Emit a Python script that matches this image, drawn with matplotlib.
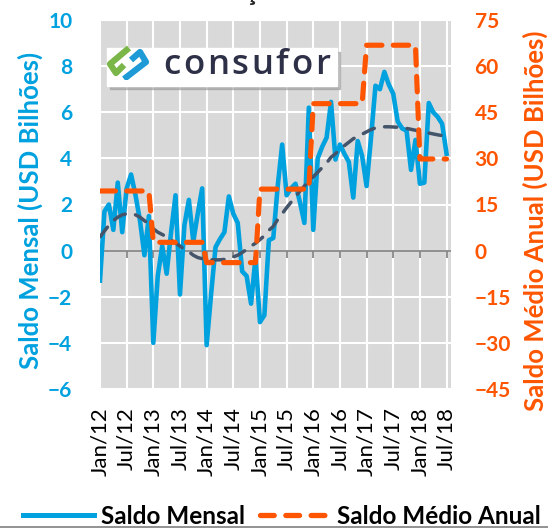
import numpy as np
import matplotlib
matplotlib.use("Agg")
import matplotlib.pyplot as plt
from matplotlib.lines import Line2D
from matplotlib.patches import Rectangle

# saldo mensal (USD bi), Jan/12 .. Jul/18
saldo_2012 = [-1.3, 1.7, 2.0, 0.9, 2.95, 0.8, 2.7, 3.3, 2.4, 1.3, -0.2, 1.5]
saldo_2013 = [-4.0, -1.1, 0.2, -1.0, 0.8, 2.4, -1.9, 1.1, 2.2, 0.4, 1.6, 2.7]
saldo_2014 = [-4.1, -1.9, 0.15, 0.5, 0.8, 2.35, 1.6, 1.2, -0.9, -1.1, -2.3, -0.3]
saldo_2015 = [-3.1, -2.8, 0.45, 0.55, 2.8, 4.6, 2.4, 2.7, 2.9, 2.1, 1.2, 6.2]
saldo_2016 = [0.9, 4.0, 4.5, 4.9, 6.45, 3.95, 4.6, 4.2, 3.85, 2.3, 4.75, 4.1]
saldo_2017 = [2.8, 4.9, 7.15, 7.0, 7.75, 7.2, 6.8, 5.6, 5.3, 5.2, 3.5, 4.8]
saldo_2018 = [2.9, 2.95, 6.4, 6.0, 5.8, 5.5, 4.2]
saldo_mensal = saldo_2012 + saldo_2013 + saldo_2014 + saldo_2015 + saldo_2016 + saldo_2017 + saldo_2018

# saldo anual (eixo direito) e meses de cada ano no grafico
anos = [2012, 2013, 2014, 2015, 2016, 2017, 2018]
saldo_anual = [19.4, 2.7, -3.9, 20.0, 47.8, 66.8, 29.8]
meses_por_ano = [12, 12, 12, 12, 12, 12, 7]

# tendencia (linha tracejada cinza)
tendencia = [0.6, 0.85, 1.1, 1.3, 1.45, 1.55, 1.6, 1.6, 1.55, 1.45, 1.3, 1.15,
             0.95, 0.8, 0.7, 0.6, 0.45, 0.33, 0.2, 0.05, -0.05, -0.2, -0.3, -0.35,
             -0.39, -0.4, -0.4, -0.4, -0.38, -0.33, -0.27, -0.2, -0.08, 0.05, 0.2, 0.32,
             0.48, 0.65, 0.88, 1.05, 1.35, 1.6, 1.86, 2.1, 2.35, 2.58, 2.8, 3.0,
             3.2, 3.4, 3.6, 3.8, 4.05, 4.2, 4.4, 4.55, 4.7, 4.85, 4.95, 5.05,
             5.15, 5.25, 5.32, 5.35, 5.37, 5.37, 5.36, 5.35, 5.33, 5.3, 5.26, 5.22,
             5.18, 5.14, 5.1, 5.06, 5.02, 4.99, 4.97]

tick_labels = ["Jan/12", "Jul/12", "Jan/13", "Jul/13", "Jan/14", "Jul/14", "Jan/15",
               "Jul/15", "Jan/16", "Jul/16", "Jan/17", "Jul/17", "Jan/18", "Jul/18"]

BLUE = "#00a1df"
ORANGE = "#ff5500"
GRAY = "#44546a"
W, H = 548, 528

plt.rcParams["font.family"] = ["Lato", "DejaVu Sans"]

x = np.arange(len(saldo_mensal))
anual_mensal = np.repeat(saldo_anual, meses_por_ano)
xt = np.arange(0, len(saldo_mensal), 6)

fig = plt.figure(figsize=(W / 100, H / 100), dpi=100)
ax = fig.add_axes([100 / W, 1 - 389 / H, 351 / W, 369 / H])
ax.set_facecolor("#d9d9d9")
ax2 = ax.twinx()

ax.plot(x, saldo_mensal, color=BLUE, lw=3.3, zorder=3, solid_joinstyle="round")
ax.plot(x, tendencia, color=GRAY, lw=2.5, dashes=(3.5, 3), dash_capstyle="round", zorder=4)
ax2.plot(x, anual_mensal, color=ORANGE, lw=3.7, dashes=(3, 2.2), dash_capstyle="round", zorder=5)

ax.set_xlim(0, 79)
ax.set_ylim(-6, 10)
ax2.set_ylim(-45, 75)
ax.set_yticks(np.arange(-6, 11, 2))
ax2.set_yticks(np.arange(-45, 76, 15))
ax.set_xticks(xt)
ax.set_xticklabels(tick_labels, rotation=90, fontsize=16, color="black")

ax.grid(True, color="white", lw=1.5)
ax.set_axisbelow(True)
for a in (ax, ax2):
    for s in a.spines.values():
        s.set_visible(False)

# linha do zero com marcas
ax.axhline(0, color="#878787", lw=1.3, zorder=2)
ax.vlines(xt, -0.3, 0, color="#878787", lw=1.3, zorder=2)

ax.tick_params(axis="y", length=0, pad=20, labelsize=15, labelcolor=BLUE)
ax.tick_params(axis="x", length=0, pad=13)
ax2.tick_params(axis="y", length=0, pad=17, labelsize=15, labelcolor=ORANGE)
for t in ax.get_yticklabels():
    t.set_fontweight("bold")
for t in ax2.get_yticklabels():
    t.set_fontweight("bold")

ax.set_ylabel("Saldo Mensal (USD Bilhões)", color=BLUE, fontsize=18.5, fontweight="bold")
ax.yaxis.set_label_coords((43 - 100) / 351, 0.485)
ax2.set_ylabel("Saldo Médio Anual (USD Bilhões)", color=ORANGE, fontsize=18.5, fontweight="bold")
ax2.yaxis.set_label_coords((523 - 100) / 351, 0.455)

# titulo (cortado no topo)
fig.text(0.322, 1.0, "Balança Comercial", fontsize=20, fontweight="bold",
         color="#262626", va="baseline", ha="left")

# legenda
handles = [Line2D([], [], color=BLUE, lw=3.6),
           Line2D([], [], color=ORANGE, lw=3.8, dashes=(2.6, 2.2), dash_capstyle="round")]
fig.legend(handles, ["Saldo Mensal", "Saldo Médio Anual"], loc="center",
           bbox_to_anchor=(0.515, 0.022), ncol=2, frameon=False,
           prop={"size": 17.5, "weight": "bold"}, handlelength=2.9,
           handletextpad=0.3, columnspacing=0.6)
fig.add_artist(Line2D([0, 1], [0.002, 0.002], color="#7f7f7f", lw=1.2))

# logo consufor
fig.add_artist(Rectangle((110 / W, 1 - 89 / H), 230 / W, 37 / H, color="#9a9a9a",
                         alpha=0.6, transform=fig.transFigure, zorder=10))
fig.add_artist(Rectangle((107 / W, 1 - 86 / H), 230 / W, 38 / H, color="white",
                         transform=fig.transFigure, zorder=11))
renderer = fig.canvas.get_renderer()
letras = []
for ch in "consufor":
    t = fig.text(0, 1 - 74 / H, ch, fontsize=25, color="#2e3047", fontweight="semibold",
                 family="Open Sans", va="baseline", zorder=12)
    letras.append(t)
larguras = [t.get_window_extent(renderer).width for t in letras]
espaco = (167 - sum(larguras)) / (len(letras) - 1)
pos = 163
for t, w in zip(letras, larguras):
    t.set_x(pos / W)
    pos += w + espaco

icon = fig.add_axes([106 / W, 1 - 80 / H, 56 / W, 36 / H], zorder=13)
icon.set_xlim(106, 162)
icon.set_ylim(80, 44)
icon.axis("off")
icon.plot([129, 110, 116, 124], [48, 64, 73, 65], color="#7ab648", lw=4.5,
          solid_joinstyle="round", solid_capstyle="butt")
icon.plot([124, 146, 140, 131], [79, 62, 52, 60], color="#1e9bd7", lw=4.5,
          solid_joinstyle="round", solid_capstyle="butt")

fig.savefig("out.png", dpi=100)
